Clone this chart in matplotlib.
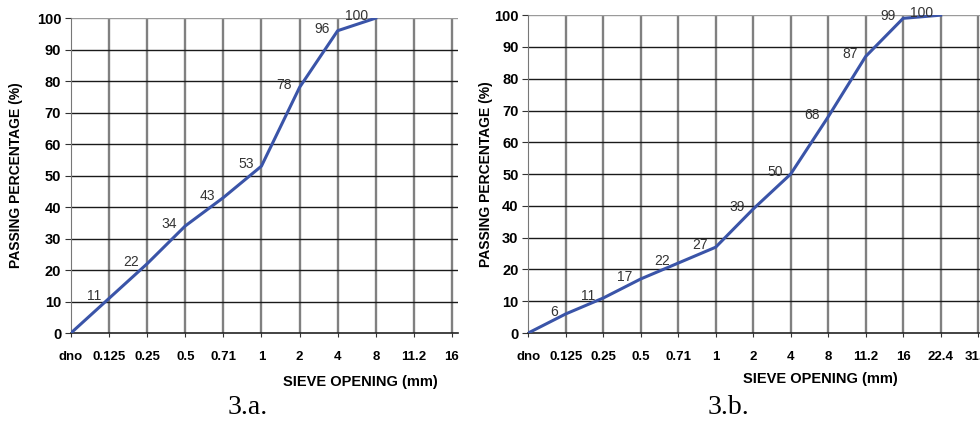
import numpy as np
import matplotlib.pyplot as plt

# sieve openings (category axis) and passing percentages
sieves_a = ['dno', '0.125', '0.25', '0.5', '0.71', '1', '2', '4', '8', '11.2', '16']
passing_a = [0, 11, 22, 34, 43, 53, 78, 96, 100]

sieves_b = ['dno', '0.125', '0.25', '0.5', '0.71', '1', '2', '4', '8', '11.2', '16', '22.4', '31.5']
passing_b = [0, 6, 11, 17, 22, 27, 39, 50, 68, 87, 99, 100]

line_color = '#3a54a8'
plt.rcParams['font.family'] = ['Liberation Sans', 'DejaVu Sans']


def sieve_chart(ax, sieves, passing, x_right, ylab_x, xlab_pos):
    pos = np.arange(len(sieves))
    ax.set_xlim(0, x_right)
    ax.set_ylim(0, 100)

    # grid: gray verticals at each sieve, dark horizontals every 10 %
    for p in pos[1:]:
        ax.axvline(p, color='#808080', lw=1.7, zorder=1)
    for y in range(10, 101, 10):
        ax.axhline(y, color='#9a9a9a' if y == 100 else '#1a1a1a', lw=1.0, zorder=1)

    x = pos[:len(passing)]
    ax.plot(x, passing, color=line_color, lw=2.2, zorder=3)
    for xi, yi in zip(x[1:], passing[1:]):
        ax.annotate(str(yi), (xi, yi), xytext=(-8, 2), textcoords='offset pixels',
                    ha='right', va='center', fontsize=10, color='#333333', zorder=4)

    ax.set_xticks(pos)
    ax.set_xticklabels(sieves, fontsize=9.5, fontweight='bold')
    ax.set_yticks(range(0, 101, 10))
    ax.set_yticklabels([str(v) for v in range(0, 101, 10)], fontsize=10.5, fontweight='bold')
    ax.tick_params(axis='x', length=3, pad=10, color='#333333')
    ax.tick_params(axis='y', length=4, pad=3, color='#333333')

    for s in ['top', 'right']:
        ax.spines[s].set_visible(False)
    ax.spines['left'].set_color('#777777')
    ax.spines['bottom'].set_color('#222222')
    ax.spines['bottom'].set_linewidth(1.2)

    ax.set_ylabel('PASSING PERCENTAGE (%)', fontsize=10, fontweight='bold')
    ax.yaxis.set_label_coords(ylab_x, 0.5)
    ax.text(xlab_pos[0], xlab_pos[1], 'SIEVE OPENING (mm)', transform=ax.transAxes,
            ha='center', va='center', fontsize=10.5, fontweight='bold')


fig = plt.figure(figsize=(9.8, 4.21), dpi=100)
ax_a = fig.add_axes([0.0724, 0.209, 0.395, 0.748])
ax_b = fig.add_axes([0.539, 0.209, 0.461, 0.755])

sieve_chart(ax_a, sieves_a, passing_a, 10.16, -0.124, (0.747, -0.156))
sieve_chart(ax_b, sieves_b, passing_b, 12.05, -0.077, (0.646, -0.146))

fig.text(248 / 980, 1 - 407 / 421, '3.a.', ha='center', va='center',
         fontsize=20, family='Liberation Serif')
fig.text(728 / 980, 1 - 407 / 421, '3.b.', ha='center', va='center',
         fontsize=20, family='Liberation Serif')

fig.savefig('out.png', dpi=100)
